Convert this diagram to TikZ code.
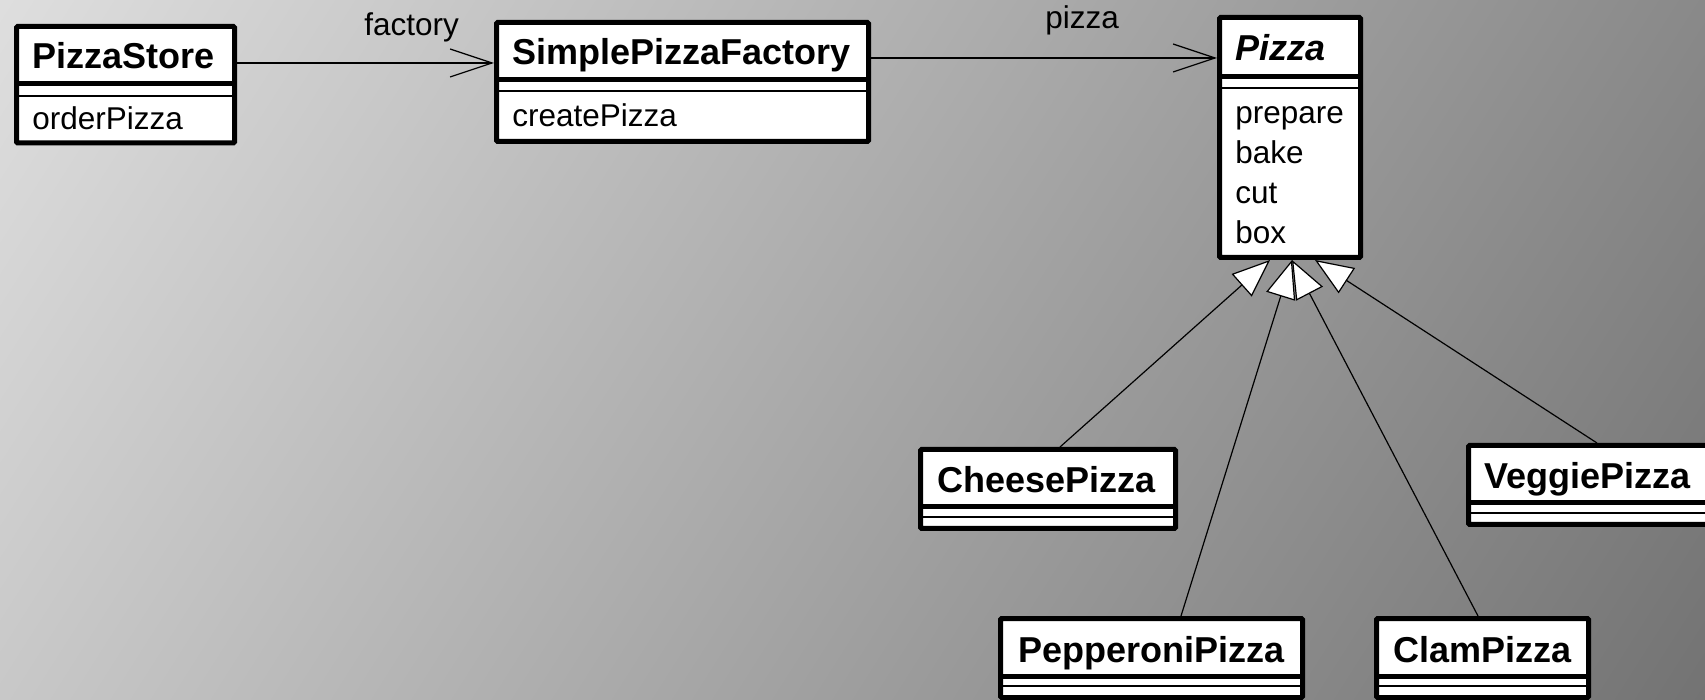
\documentclass[tikz,border=0pt]{standalone}
\usepackage{fontspec}
\setmainfont{Liberation Sans}
\usetikzlibrary{arrows.meta,fit}

% diagonal grey backdrop
\pgfdeclarehorizontalshading{bgshade}{100bp}{rgb(0bp)=(0.965,0.965,0.965); rgb(100bp)=(0.357,0.357,0.357)}

\newcommand\clsnamefont{\fontsize{18pt}{21pt}\selectfont\bfseries}
\newcommand\clsmemberfont{\fontsize{15.75pt}{19pt}\selectfont}

\tikzset{
  classbox/.style={draw=black, line width=2.5pt, fill=white, inner sep=0pt, rounded corners=0.6pt},
  septhick/.style={line width=2.5pt},
  septhin/.style={line width=1pt},
  ctitle/.style={font=\clsnamefont, anchor=base west, inner sep=0pt},
  cmember/.style={font=\clsmemberfont, anchor=base west, inner sep=0pt},
  rolelabel/.style={font=\clsmemberfont, anchor=base west, inner sep=0pt},
  assoc/.style={line width=0.6pt, -{Straight Barb[length=21pt,width=14pt]}},
  inherit/.style={line width=0.6pt, -{Triangle[length=19pt,width=15pt,fill=white]}},
}

\begin{document}
\begin{tikzpicture}[x=0.5pt,y=-0.5pt]
\useasboundingbox (0,0) rectangle (1705,700);
\clip (0,0) rectangle (1705,700);
\shade[shading=bgshade, shading angle=-32.5] (0,0) rectangle (1705,700);

% PizzaStore
\node[classbox, fit={(16.5,26.5) (234.5,143)}] (store) {};
\draw[septhick] (store.west |- 0,84) -- (store.east |- 0,84);
\draw[septhin] (store.west |- 0,96) -- (store.east |- 0,96);
\node[ctitle] (storeName) at (32,69) {PizzaStore};
\node[cmember] (storeOp) at (32,129.5) {orderPizza};

% SimplePizzaFactory
\node[classbox, fit={(496.5,22.5) (868.5,141.5)}] (factory) {};
\draw[septhick] (factory.west |- 0,80) -- (factory.east |- 0,80);
\draw[septhin] (factory.west |- 0,91) -- (factory.east |- 0,91);
\node[ctitle] (factoryName) at (512,65) {SimplePizzaFactory};
\node[cmember] (factoryOp) at (512,126.5) {createPizza};

% Pizza (abstract)
\node[classbox, fit={(1219.5,17.5) (1360.5,257.5)}] (pizza) {};
\draw[septhick] (pizza.west |- 0,77) -- (pizza.east |- 0,77);
\draw[septhin] (pizza.west |- 0,88) -- (pizza.east |- 0,88);
\node[ctitle] (pizzaName) at (1235,61) {\itshape Pizza};
\node[cmember] (pizzaOp1) at (1235,124) {prepare};
\node[cmember] (pizzaOp2) at (1235,163.8) {bake};
\node[cmember] (pizzaOp3) at (1235,203.6) {cut};
\node[cmember] (pizzaOp4) at (1235,243.4) {box};

% concrete pizzas
\node[classbox, fit={(920.5,449.5) (1175.5,528.5)}] (cheese) {};
\draw[septhick] (cheese.west |- 0,507) -- (cheese.east |- 0,507);
\draw[septhin] (cheese.west |- 0,517) -- (cheese.east |- 0,517);
\node[ctitle] (cheeseName) at (937,492.5) {CheesePizza};

\node[classbox, fit={(1468.5,445.5) (1712,524.5)}] (veggie) {};
\draw[septhick] (veggie.west |- 0,503) -- (veggie.east |- 0,503);
\draw[septhin] (veggie.west |- 0,513) -- (veggie.east |- 0,513);
\node[ctitle] (veggieName) at (1484,488.5) {VeggiePizza};

\node[classbox, fit={(1000.5,618.5) (1302.5,697.5)}] (pepperoni) {};
\draw[septhick] (pepperoni.west |- 0,676) -- (pepperoni.east |- 0,676);
\draw[septhin] (pepperoni.west |- 0,686) -- (pepperoni.east |- 0,686);
\node[ctitle] (pepperoniName) at (1018,662) {PepperoniPizza};

\node[classbox, fit={(1376.5,618.5) (1588.5,697.5)}] (clam) {};
\draw[septhick] (clam.west |- 0,676) -- (clam.east |- 0,676);
\draw[septhin] (clam.west |- 0,686) -- (clam.east |- 0,686);
\node[ctitle] (clamName) at (1393,662) {ClamPizza};

% associations
\draw[assoc] (store.east |- 0,63) -- (factory.west |- 0,63);
\node[rolelabel] (roleFactory) at (364,35.5) {factory};
\draw[assoc] (factory.east |- 0,58) -- (pizza.west |- 0,58);
\node[rolelabel] (rolePizza) at (1045,29) {pizza};

% generalisations
\draw[inherit] (cheese.north -| 1060,0) -- (1270,0 |- pizza.south);
\draw[inherit] (pepperoni.north -| 1181,0) -- (1292,0 |- pizza.south);
\draw[inherit] (clam.north -| 1478,0) -- (1292,0 |- pizza.south);
\draw[inherit] (veggie.north -| 1597,0) -- (1315,0 |- pizza.south);
\end{tikzpicture}
\end{document}
